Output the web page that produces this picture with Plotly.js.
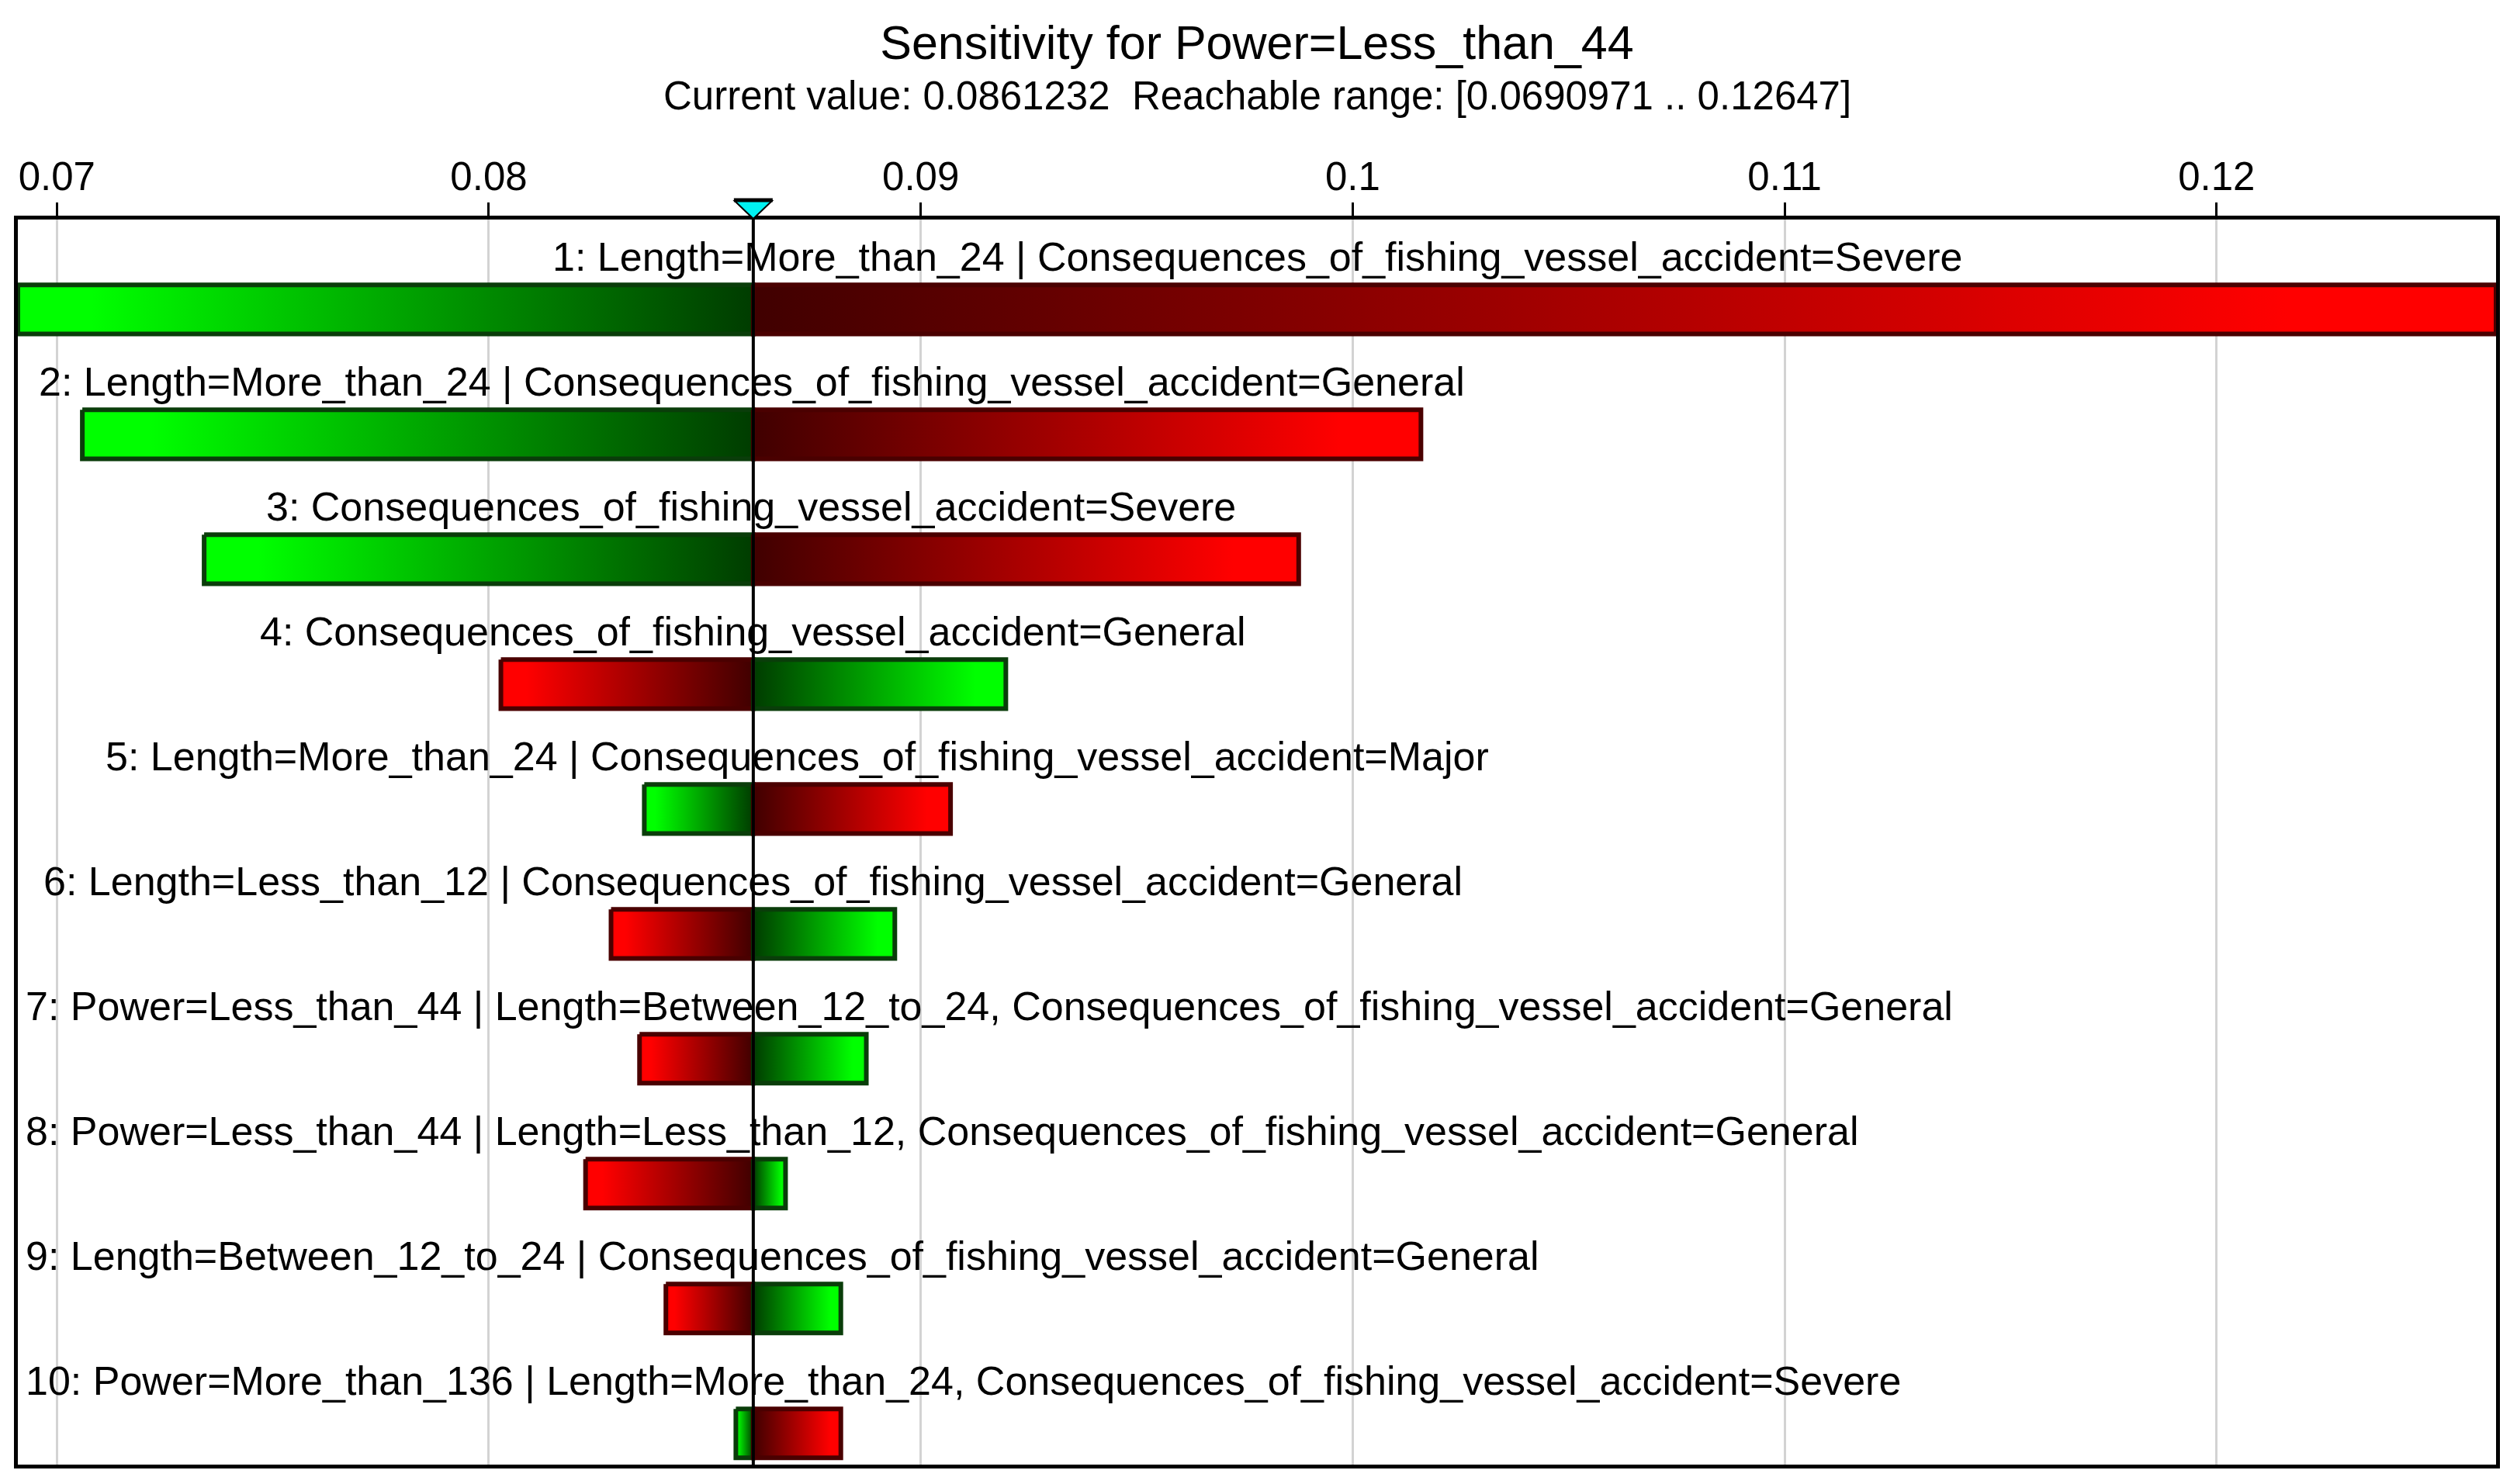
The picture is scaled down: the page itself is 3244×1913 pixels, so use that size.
<!DOCTYPE html>
<html>
<head>
<meta charset="utf-8">
<script src="https://cdn.plot.ly/plotly-3.0.1.min.js"></script>
<style>
  html, body { margin: 0; padding: 0; background: #fff; }
  #chart { width: 3244px; height: 1913px; }
</style>
</head>
<body>
<div id="chart"></div>
<script>
// ── Data ──────────────────────────────────────────────────────────────────────
const target       = "Power=Less_than_44";
const currentValue = 0.0861232;
const reachMin     = 0.0690971;
const reachMax     = 0.12647;

const labels = [
  "1: Length=More_than_24 | Consequences_of_fishing_vessel_accident=Severe",
  "2: Length=More_than_24 | Consequences_of_fishing_vessel_accident=General",
  "3: Consequences_of_fishing_vessel_accident=Severe",
  "4: Consequences_of_fishing_vessel_accident=General",
  "5: Length=More_than_24 | Consequences_of_fishing_vessel_accident=Major",
  "6: Length=Less_than_12 | Consequences_of_fishing_vessel_accident=General",
  "7: Power=Less_than_44 | Length=Between_12_to_24, Consequences_of_fishing_vessel_accident=General",
  "8: Power=Less_than_44 | Length=Less_than_12, Consequences_of_fishing_vessel_accident=General",
  "9: Length=Between_12_to_24 | Consequences_of_fishing_vessel_accident=General",
  "10: Power=More_than_136 | Length=More_than_24, Consequences_of_fishing_vessel_accident=Severe",
];
const lowVals  = [0.0690971, 0.07059, 0.07341, 0.08028, 0.08360, 0.08283, 0.08349, 0.08224, 0.08410, 0.08572];
const highVals = [0.12647,   0.10158, 0.09875, 0.09197, 0.09069, 0.08940, 0.08874, 0.08687, 0.08815, 0.08815];
// colour of the part of each bar left of the current value
const lowSide  = ["green", "green", "green", "red", "green", "red", "red", "red", "red", "green"];

// ── Styles ────────────────────────────────────────────────────────────────────
const FONT = "Liberation Sans, Arial, sans-serif";
const LABEL_SIZE = 52;
const W = 3244, H = 1913;
const M = { l: 23, r: 27, t: 283, b: 25 };
const HALF = 0.196;   // half bar height (category units)

const PAL = {
  green: { bright: "#00ff00", dark: "#003c00", edge: "#0a3d0a" },
  red:   { bright: "#ff0000", dark: "#400000", edge: "#4a0000" },
};

function halfBar(i, x0, x1, col, outerLeft) {
  const p = PAL[col];
  const scale = outerLeft
    ? [[0, p.bright], [0.1, p.bright], [1, p.dark]]
    : [[0, p.dark], [0.88, p.bright], [1, p.bright]];
  return {
    type: "scatter",
    mode: "lines",
    x: [x0, x1, x1, x0, x0],
    y: [i - HALF, i - HALF, i + HALF, i + HALF, i - HALF],
    fill: "toself",
    fillgradient: { type: "horizontal", start: x0, stop: x1, colorscale: scale },
    line: { color: p.edge, width: 6 },
    hoverinfo: "skip",
    showlegend: false,
  };
}

const traces = [];
labels.forEach((_, i) => {
  const other = lowSide[i] === "green" ? "red" : "green";
  traces.push(halfBar(i, lowVals[i], currentValue, lowSide[i], true));
  traces.push(halfBar(i, currentValue, highVals[i], other, false));
});

// ── Labels: centred on the bar, pushed right if they would leave the frame ──
const ctx = document.createElement("canvas").getContext("2d");
ctx.font = `${LABEL_SIZE}px "Liberation Sans"`;
const plotW = W - M.l - M.r;
const perPx = (reachMax - reachMin) / plotW;

const annotations = labels.map((t, i) => {
  const mid = (lowVals[i] + highVals[i]) / 2;
  const halfW = ctx.measureText(t).width / 2 * perPx;
  const minX = reachMin + 8 * perPx;
  const clamp = mid - halfW < minX;
  return {
    text: t,
    x: clamp ? minX : mid,
    xanchor: clamp ? "left" : "center",
    y: i - 0.42,
    yanchor: "middle",
    xref: "x", yref: "y",
    showarrow: false,
    font: { family: FONT, size: LABEL_SIZE, color: "#000" },
  };
});

annotations.push({
  text: `Current value: ${currentValue}\u00a0\u00a0Reachable range: [${reachMin} .. ${reachMax}]`,
  x: 0.5, xref: "paper", xanchor: "center",
  y: 1 + (283 - 124) / (H - M.t - M.b), yref: "paper", yanchor: "middle",
  showarrow: false,
  font: { family: FONT, size: 51, color: "#000" },
});

const shapes = [
  {
    type: "line", layer: "above",
    xref: "x", yref: "paper",
    x0: currentValue, x1: currentValue, y0: 0, y1: 1,
    line: { color: "#000", width: 4 },
  },
  {
    type: "path", layer: "above",
    xref: "x", yref: "paper",
    xsizemode: "pixel", ysizemode: "pixel",
    xanchor: currentValue, yanchor: 1,
    path: "M -24 24 L 24 24 L 0 1 Z",
    fillcolor: "#00f2f2",
    line: { color: "#000", width: 2 },
  },
  {
    type: "line", layer: "above",
    xref: "x", yref: "paper",
    xsizemode: "pixel", ysizemode: "pixel",
    xanchor: currentValue, yanchor: 1,
    x0: -25, x1: 25, y0: 25, y1: 25,
    line: { color: "#000", width: 5 },
  },
];

const layout = {
  width: W, height: H,
  margin: M,
  paper_bgcolor: "#fff",
  plot_bgcolor: "#fff",
  font: { family: FONT, size: LABEL_SIZE, color: "#000" },
  title: {
    text: `Sensitivity for ${target}`,
    font: { family: FONT, size: 61, color: "#000" },
    x: 0.5, xref: "paper", xanchor: "center",
    y: 1 - 55 / H, yref: "container", yanchor: "middle",
  },
  xaxis: {
    side: "top",
    range: [reachMin, reachMax],
    tick0: 0.07, dtick: 0.01,
    ticks: "outside", ticklen: 17, tickwidth: 3, tickcolor: "#000",
    ticklabelstandoff: -4,
    tickfont: { family: FONT, size: 51, color: "#000" },
    showgrid: true, gridcolor: "#d3d3d3", gridwidth: 3,
    zeroline: false,
    showline: true, mirror: true, linecolor: "#000", linewidth: 5,
  },
  yaxis: {
    range: [9.25, -0.72],
    showticklabels: false, ticks: "",
    showgrid: false, zeroline: false,
    showline: true, mirror: true, linecolor: "#000", linewidth: 5,
  },
  annotations,
  shapes,
  showlegend: false,
};

Plotly.newPlot("chart", traces, layout, { staticPlot: true, displayModeBar: false });
</script>
</body>
</html>
